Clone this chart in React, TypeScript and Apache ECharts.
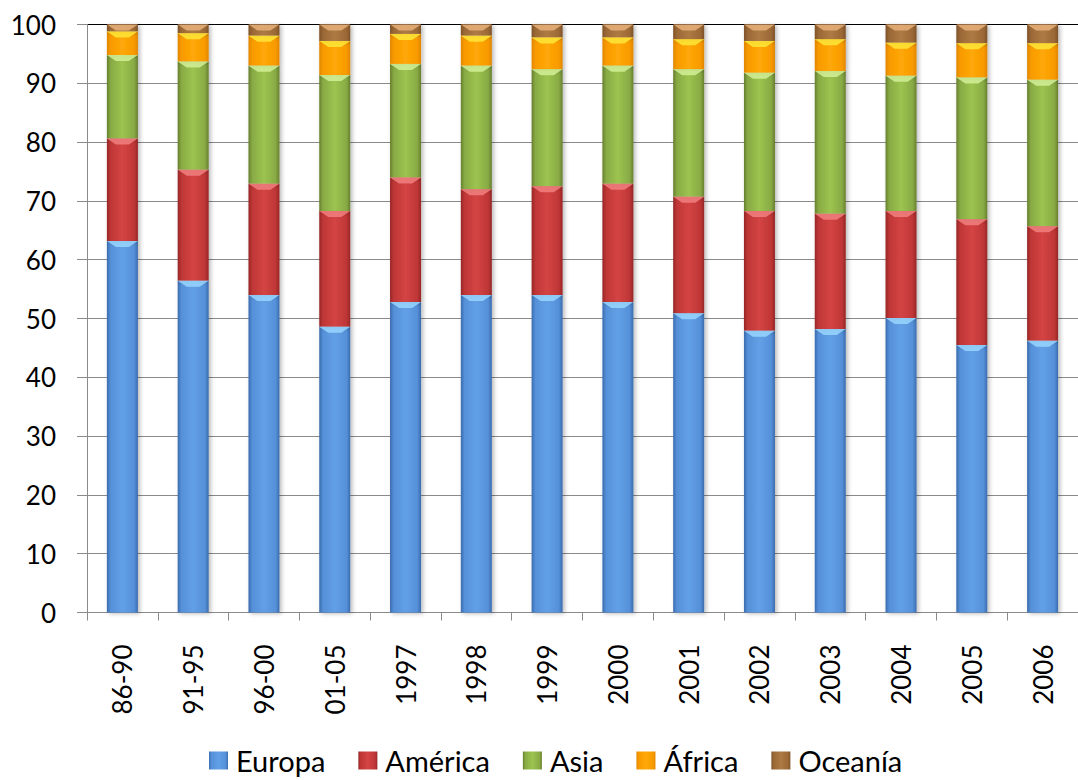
import React, { useEffect, useRef } from "react";
import * as echarts from "echarts";

// Periods / years on the category axis
const categories = [
  "86-90", "91-95", "96-00", "01-05", "1997", "1998", "1999",
  "2000", "2001", "2002", "2003", "2004", "2005", "2006",
];

// Share (%) of each region, stacked to 100
const europa = [63.2, 56.4, 54.0, 48.6, 52.8, 54.0, 54.0, 52.8, 50.9, 47.9, 48.2, 50.1, 45.5, 46.2];
const america = [17.4, 18.9, 18.9, 19.7, 21.2, 18.0, 18.5, 20.1, 19.8, 20.4, 19.6, 18.2, 21.4, 19.5];
const asia = [14.2, 18.4, 20.1, 23.1, 19.3, 21.0, 19.9, 20.1, 21.7, 23.5, 24.3, 23.0, 24.1, 24.9];
const africa = [4.0, 4.8, 5.1, 5.8, 5.1, 5.1, 5.4, 4.8, 5.1, 5.4, 5.4, 5.6, 5.8, 6.2];
const oceania = [1.2, 1.5, 1.9, 2.8, 1.6, 1.9, 2.2, 2.2, 2.5, 2.8, 2.5, 3.1, 3.2, 3.2];

const seriesNames = ["Europa", "América", "Asia", "África", "Oceanía"];
const seriesValues = [europa, america, asia, africa, oceania];

// edge, mid, centre, highlight (bevel top)
const palette = [
  { edge: "#3A6BAE", mid: "#5590D8", centre: "#62A0E6", light: "#9AD6FF" },
  { edge: "#962626", mid: "#BF3636", centre: "#D44444", light: "#F28080" },
  { edge: "#667F2E", mid: "#88AA44", centre: "#9CC450", light: "#D4F098" },
  { edge: "#E08600", mid: "#F89A00", centre: "#FFA808", light: "#FFE838" },
  { edge: "#7E5128", mid: "#9A6836", centre: "#AE7A44", light: "#E8B07A" },
];

const BAR_W = 31;
const FONT = "Lato, 'Open Sans', sans-serif";

function bodyGradient(p: (typeof palette)[number]) {
  return new echarts.graphic.LinearGradient(0, 0, 1, 0, [
    { offset: 0, color: p.edge },
    { offset: 0.12, color: p.mid },
    { offset: 0.5, color: p.centre },
    { offset: 0.88, color: p.mid },
    { offset: 1, color: p.edge },
  ]);
}

export default function App() {
  const ref = useRef<HTMLDivElement>(null);

  useEffect(() => {
    if (!ref.current) return;
    const chart = echarts.init(ref.current, undefined, { renderer: "svg" });

    // top edge of every stacked segment: [category, top, series index]
    const bevelData: number[][] = [];
    categories.forEach((_, i) => {
      let acc = 0;
      seriesValues.forEach((vals, s) => {
        acc += vals[i];
        bevelData.push([i, acc, s]);
      });
    });

    const barSeries = seriesNames.map((name, s) => ({
      name,
      type: "bar",
      stack: "total",
      barWidth: BAR_W,
      data: seriesValues[s],
      itemStyle: {
        color: bodyGradient(palette[s]),
        shadowColor: "rgba(0,0,0,0.28)",
        shadowBlur: 4,
        shadowOffsetX: 2,
        shadowOffsetY: 1,
      },
      emphasis: { disabled: true },
    }));

    const splitColors = Array.from({ length: 11 }, (_, k) => (k === 10 ? "#000000" : "#8A8A8A"));

    chart.setOption({
      animation: false,
      backgroundColor: "#ffffff",
      grid: { left: 87, top: 24.5, width: 1002, height: 588, containLabel: false },
      legend: {
        data: seriesNames.map((n, s) => ({
          name: n,
          itemStyle: { color: bodyGradient(palette[s]) },
        })),
        top: 741,
        left: 204,
        icon: "rect",
        itemWidth: 19,
        itemHeight: 18,
        itemGap: 33,
        textStyle: { fontFamily: FONT, fontSize: 29, color: "#000", padding: [0, 0, 0, 3] },
      },
      xAxis: {
        type: "category",
        data: categories,
        axisLine: { lineStyle: { color: "#8A8A8A", width: 1 } },
        axisTick: { show: true, length: 8, lineStyle: { color: "#8A8A8A" } },
        axisLabel: {
          rotate: 90,
          margin: 32,
          fontFamily: FONT,
          fontSize: 26,
          color: "#000",
        },
      },
      yAxis: {
        type: "value",
        min: 0,
        max: 100,
        interval: 10,
        axisLine: { show: true, lineStyle: { color: "#8A8A8A", width: 1 } },
        axisTick: { show: true, length: 10, inside: false, lineStyle: { color: "#8A8A8A" } },
        axisLabel: { margin: 31, fontFamily: FONT, fontSize: 26, color: "#000" },
        splitLine: { show: true, lineStyle: { color: splitColors, width: 1 } },
      },
      series: [
        ...barSeries,
        {
          type: "custom",
          silent: true,
          z: 5,
          data: bevelData,
          encode: { x: 0, y: 1 },
          renderItem: (_params: any, api: any) => {
            const pt = api.coord([api.value(0), api.value(1)]);
            const s = api.value(2);
            const half = BAR_W / 2;
            const depth = 6;
            return {
              type: "polygon",
              shape: {
                points: [
                  [pt[0] - half, pt[1]],
                  [pt[0] + half, pt[1]],
                  [pt[0] + half - 9, pt[1] + depth],
                  [pt[0] - half + 9, pt[1] + depth],
                ],
              },
              style: { fill: palette[s].light, opacity: 0.85 },
            };
          },
        },
      ],
    });

    return () => chart.dispose();
  }, []);

  return (
    <div
      ref={ref}
      style={{ position: "fixed", left: 0, top: 0, width: 1078, height: 780, background: "#fff" }}
    />
  );
}
